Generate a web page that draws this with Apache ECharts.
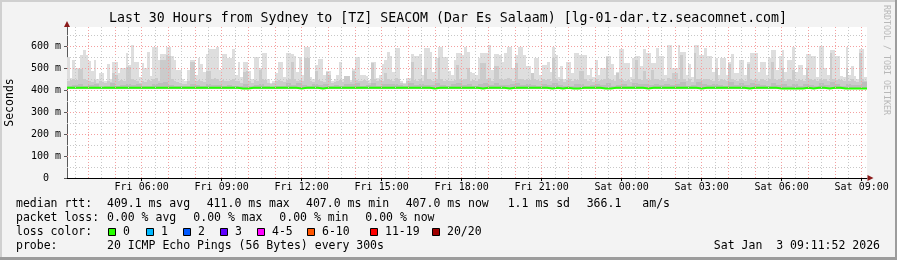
<!DOCTYPE html>
<html><head><meta charset="utf-8">
<script src="https://cdn.jsdelivr.net/npm/echarts@6/dist/echarts.min.js"></script>
<style>html,body{margin:0;padding:0;background:#f3f3f3}#c{width:897px;height:260px}</style>
</head><body><div id="c"></div>
<script>
const titleText = 'Last 30 Hours from Sydney to [TZ] SEACOM (Dar Es Salaam) [lg-01-dar.tz.seacomnet.com]';
const startHour = 3.2;   // Fri 03:12
const endHour = 33.2;    // Sat 09:12
const fineStep = 0.1;    // 6 min columns (smoke tops)
const coarseStep = 0.2;  // 12 min columns (median, inner smoke)
const xTickHours = [6, 9, 12, 15, 18, 21, 24, 27, 30, 33];
const yTicks = [0, 100, 200, 300, 400, 500, 600];
const yMax = 686;

// median rtt (ms), 12-min columns
const medianRtt = [
410,410,410,410,410,410,410,410,410,410,
410,410,410,410,410,410,410,410,410,410,
410,410,410,410,410,410,410,410,410,410,
410,410,407,407,410,410,410,410,410,410,
410,410,410,407,410,410,410,407,410,410,
410,410,410,410,410,410,410,410,410,410,
410,410,410,410,410,410,410,410,407,410,
410,410,410,410,410,410,410,407,410,410,
410,410,407,410,410,410,410,410,410,410,
407,410,407,410,407,407,410,410,410,410,
407,407,410,410,410,410,410,410,407,410,
410,410,410,410,410,410,410,410,407,410,
410,410,410,410,410,410,410,407,410,410,
410,410,410,407,407,407,407,407,410,407,
410,410,407,410,410,407,407,407,407,407
];
// lowest ping (ms), 12-min columns
const smokeMin = [
405,406,405,405,406,405,406,405,405,406,
406,405,405,406,405,406,405,405,406,405,
405,406,405,405,406,405,406,405,405,406,
406,405,404,404,405,406,405,405,406,405,
405,406,405,404,406,405,406,404,405,406,
406,405,405,406,405,406,405,405,406,405,
405,406,405,405,406,405,406,405,404,406,
406,405,405,406,405,406,405,404,406,405,
405,406,404,405,406,405,406,405,405,406,
404,405,404,406,404,404,405,405,406,405,
404,404,405,406,405,406,405,405,404,406,
406,405,405,406,405,406,405,405,404,405,
405,406,405,405,406,405,406,404,405,406,
406,405,405,404,404,404,404,404,405,404,
405,406,404,405,406,404,404,404,404,404
];
// dense smoke around the median (ms), 12-min columns
const smokeDark = [
420,424,428,418,422,426,415,420,430,418,
422,428,424,426,418,420,426,432,436,424,
420,416,418,428,422,420,426,422,424,418,
422,420,416,426,418,422,428,420,414,416,
420,430,424,432,424,420,426,422,428,418,
422,416,426,428,430,420,424,430,420,426,
426,428,422,418,430,422,428,424,422,432,
424,420,426,430,424,428,418,428,432,424,
432,422,424,428,430,424,428,422,418,426,
422,432,424,420,418,428,428,420,422,428,
422,432,420,424,428,418,430,426,428,424,
428,422,428,424,428,436,420,422,434,428,
424,428,422,418,434,422,430,422,430,428,
424,420,430,422,428,420,428,418,428,424,
420,430,422,434,426,418,428,422,424,436
];
// mid smoke top (ms), 6-min columns
const smokeMid = [
440,445,450,445,495,495,450,445,440,435,
445,430,440,435,430,440,435,475,470,440,
445,440,505,505,450,445,440,430,440,435,
445,440,450,455,440,537,537,560,555,450,
440,435,430,425,425,440,529,529,440,445,
440,435,484,484,450,455,450,440,445,440,
440,445,450,440,440,430,480,484,440,430,
445,440,492,450,445,430,425,430,440,445,
440,435,445,450,525,450,440,445,440,544,
544,440,435,484,445,440,435,480,470,430,
435,440,445,435,462,462,435,484,445,440,
440,445,440,430,522,450,440,445,440,477,
450,445,440,455,450,430,425,440,440,529,
445,440,450,440,499,450,445,440,450,544,
450,440,445,440,440,445,514,450,445,450,
499,440,445,440,450,522,522,450,455,440,
507,507,450,445,450,455,450,440,522,450,
450,445,450,445,475,450,445,440,450,445,
450,440,544,450,440,450,435,445,450,440,
450,445,484,484,450,440,450,435,450,440,
445,450,550,450,445,440,477,450,445,440,
445,435,450,537,450,445,484,450,445,492,
450,450,445,450,440,455,450,477,477,450,
560,450,440,450,435,567,450,450,445,450,
450,445,440,500,440,450,445,440,520,450,
445,440,450,445,440,520,450,445,450,440,
450,445,440,450,529,450,445,450,499,440,
450,445,492,440,450,445,440,499,450,445,
450,440,450,445,450,440,570,450,445,450,
445,440,499,440,450,440,435,570,450,440
];
// highest ping (ms), 6-min columns
const smokeMax = [
549,455,534,500,499,559,582,559,530,484,
537,450,477,477,439,519,450,529,529,477,
499,499,570,514,605,529,529,460,522,499,
574,465,597,597,537,564,564,594,594,552,
534,489,489,450,440,492,537,537,470,544,
519,480,564,585,585,585,597,490,564,564,
544,544,585,470,529,460,525,525,484,450,
549,549,499,570,570,450,430,440,477,529,
529,460,570,570,564,552,480,549,470,597,
597,460,450,514,540,540,470,484,484,440,
450,470,529,450,465,465,445,495,549,549,
469,469,462,445,525,525,455,470,519,537,
574,552,480,589,589,440,430,454,454,564,
552,552,564,470,589,589,574,480,544,594,
594,549,549,484,470,537,567,567,559,597,
574,480,477,470,544,567,567,570,605,490,
564,564,559,529,567,594,597,500,559,597,
597,559,507,507,477,544,544,470,514,514,
529,480,597,559,460,510,450,529,529,477,
567,567,559,559,559,470,499,460,537,470,
499,499,555,555,519,470,480,585,585,522,
522,460,544,552,552,507,585,567,567,522,
522,589,552,552,470,605,605,499,499,605,
574,574,470,519,460,605,605,559,559,589,
555,555,480,544,470,544,544,470,529,564,
477,477,534,534,470,529,570,570,570,480,
529,529,470,544,582,582,490,555,582,480,
534,534,597,480,514,514,470,564,564,552,
552,460,600,600,499,470,582,582,552,552,
465,460,594,470,510,462,450,585,585,460
];

const lossLabels = ['0', '1', '2', '3', '4-5', '6-10', '11-19', '20/20'];
const lossColors = ['#26ff00', '#00b8ff', '#0059ff', '#5e00ff', '#ff00ff', '#ff5500', '#ff0000', '#a00000'];

const FONT = 'DejaVu Sans Mono';
const fineT = i => startHour + i * fineStep;
const coarseT = i => startHour + i * coarseStep;
const drawBase = 412; // bottom of outer smoke rects (hidden under inner smoke)

const outerData = smokeMax.map((v, i) => [fineT(i), smokeMid[i], v]);
const innerData = smokeDark.map((v, i) => [coarseT(i), smokeMin[i], v]);
const medianData = medianRtt.map((v, i) => [coarseT(i), v]);
medianData.push([endHour, medianRtt[medianRtt.length - 1]]);

function fmtHour(h) {
  const day = h < 24 ? 'Fri' : 'Sat';
  const hh = Math.round(h) % 24;
  return day + ' ' + String(hh).padStart(2, '0') + ':00';
}

const gridMarks = [];
for (let h = 3.5; h < endHour; h += 0.5) {
  const major = Math.abs(h - Math.round(h)) < 1e-6;
  gridMarks.push({ xAxis: h, lineStyle: { color: major ? '#f4a0a0' : '#c8c8c8', type: [1, 2], width: 1 } });
}
for (let v = 50; v < yMax; v += 50) {
  const major = v % 100 === 0;
  gridMarks.push({ yAxis: v, lineStyle: { color: major ? '#f4a0a0' : '#c8c8c8', type: [1, 2], width: 1 } });
}

const chart = echarts.init(document.getElementById('c'), null, { renderer: 'canvas' });

const g = [];
function txt(x, y, s, opt) {
  g.push({
    type: 'text', x: x, y: y, silent: true, z: 100,
    style: Object.assign({ text: s, fontFamily: FONT, fontSize: 11.5, fill: '#000', textVerticalAlign: 'middle', textAlign: 'left' }, opt || {})
  });
}
txt(448, 19, titleText, { fontSize: 13.25, textAlign: 'center' });
txt(16, 204, 'median rtt:'); txt(107, 204, '409.1 ms avg'); txt(206.7, 204, '411.0 ms max');
txt(306, 204, '407.0 ms min'); txt(405.7, 204, '407.0 ms now'); txt(507.7, 204, '1.1 ms sd');
txt(586.7, 204, '366.1'); txt(642.3, 204, 'am/s');
txt(16, 218, 'packet loss:'); txt(107, 218, '0.00 % avg'); txt(193.3, 218, '0.00 % max');
txt(279.3, 218, '0.00 % min'); txt(365.3, 218, '0.00 % now');
txt(16, 232, 'loss color:');
const sqX = [108, 146, 183, 220, 257, 307, 370, 432];
lossLabels.forEach((l, i) => {
  g.push({ type: 'rect', silent: true, z: 100, shape: { x: sqX[i] + 0.5, y: 228.5, width: 7, height: 7 },
    style: { fill: lossColors[i], stroke: '#000', lineWidth: 1 } });
  txt(sqX[i] + 15, 232, l);
});
txt(16, 246, 'probe:'); txt(107, 246, '20 ICMP Echo Pings (56 Bytes) every 300s');
txt(880, 246, 'Sat Jan  3 09:11:52 2026', { textAlign: 'right' });
g.push({ type: 'text', x: 10.5, y: 102.5, rotation: Math.PI / 2, silent: true, z: 100,
  style: { text: 'Seconds', fontFamily: FONT, fontSize: 11.5, fill: '#000', textAlign: 'center', textVerticalAlign: 'middle' } });
g.push({ type: 'text', x: 886, y: 60, rotation: -Math.PI / 2, silent: true, z: 100,
  style: { text: 'RRDTOOL / TOBI OETIKER', fontFamily: FONT, fontSize: 8.3, fill: '#b8b8b8', textAlign: 'center', textVerticalAlign: 'middle' } });
g.push({ type: 'rect', silent: true, z: 90, shape: { x: 0, y: 0, width: 897, height: 2 }, style: { fill: '#d0d0d0' } });
g.push({ type: 'rect', silent: true, z: 90, shape: { x: 0, y: 0, width: 2, height: 260 }, style: { fill: '#d0d0d0' } });
g.push({ type: 'rect', silent: true, z: 91, shape: { x: 895, y: 0, width: 2, height: 260 }, style: { fill: '#9c9c9c' } });
g.push({ type: 'rect', silent: true, z: 91, shape: { x: 0, y: 257, width: 897, height: 3 }, style: { fill: '#9c9c9c' } });
g.push({ type: 'polygon', silent: true, z: 100, shape: { points: [[67, 21], [64, 27], [70, 27]] }, style: { fill: '#8b1a1a' } });
g.push({ type: 'polygon', silent: true, z: 100, shape: { points: [[873.5, 178], [867.5, 175], [867.5, 181]] }, style: { fill: '#8b1a1a' } });

function colRect(api, t, step, lo, hi, fill) {
  const x0 = Math.round(api.coord([t, 0])[0]);
  const x1 = Math.round(api.coord([t + step, 0])[0]);
  const yHi = Math.round(api.coord([t, hi])[1]);
  const yLo = Math.round(api.coord([t, lo])[1]);
  return { type: 'rect', shape: { x: x0, y: yHi, width: x1 - x0, height: yLo - yHi }, style: { fill: fill } };
}

chart.setOption({
  animation: false,
  backgroundColor: '#f3f3f3',
  grid: { left: 67, right: 30, top: 27, bottom: 82, show: true, backgroundColor: '#ffffff', borderWidth: 0 },
  xAxis: {
    type: 'value', min: startHour, max: endHour,
    axisLine: { show: true, onZero: false, lineStyle: { color: '#000', width: 1 } },
    axisTick: { show: true, customValues: xTickHours, length: 3, lineStyle: { color: '#000' } },
    axisLabel: { customValues: xTickHours, formatter: fmtHour, margin: 4, fontFamily: FONT, fontSize: 10, color: '#000' },
    splitLine: { show: false }
  },
  yAxis: {
    type: 'value', min: 0, max: yMax,
    axisLine: { show: true, onZero: false, lineStyle: { color: '#5a5a5a', width: 1 } },
    axisTick: { show: true, customValues: yTicks, length: 3, lineStyle: { color: '#5a5a5a' } },
    axisLabel: { customValues: yTicks, formatter: v => v === 0 ? '0  ' : v + ' m', margin: 6, fontFamily: FONT, fontSize: 10, color: '#000' },
    splitLine: { show: false }
  },
  graphic: g,
  series: [
    {
      type: 'custom', name: 'smoke outer', z: 2, clip: true,
      encode: { x: 0, y: [1, 2] }, data: outerData,
      renderItem: function (params, api) {
        const t = api.value(0);
        return { type: 'group', children: [
          colRect(api, t, fineStep, api.value(1), api.value(2), '#dedede'),
          colRect(api, t, fineStep, drawBase, api.value(1), '#cbcbcb')
        ] };
      }
    },
    {
      type: 'custom', name: 'smoke inner', z: 2, clip: true,
      encode: { x: 0, y: [1, 2] }, data: innerData,
      renderItem: function (params, api) {
        const t = api.value(0);
        return colRect(api, t, coarseStep, api.value(1), api.value(2), '#bdbdbd');
      }
    },
    {
      type: 'line', name: 'grid', z: 3, data: [[startHour, 0]], symbol: 'none',
      lineStyle: { opacity: 0 },
      markLine: { silent: true, symbol: ['none', 'none'], label: { show: false }, animation: false, data: gridMarks }
    },
    {
      type: 'line', name: 'median rtt', z: 4, step: 'end', data: medianData,
      showSymbol: false, symbol: 'none',
      lineStyle: { color: '#26ff00', width: 2 }
    }
  ]
});
</script></body></html>
